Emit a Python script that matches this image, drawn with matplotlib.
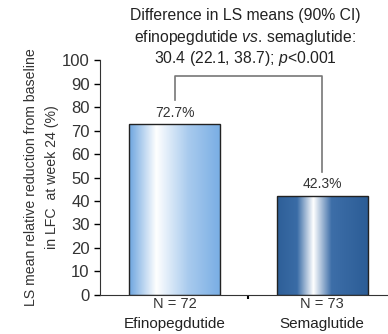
import numpy as np
import matplotlib
matplotlib.use("Agg")
from matplotlib import pyplot as plt
from matplotlib.colors import LinearSegmentedColormap

groups = ["Efinopegdutide", "Semaglutide"]
n_labels = ["N = 72", "N = 73"]
values = [72.7, 42.3]
title_lines = ["Difference in LS means (90% CI)",
               "efinopegdutide $\\it{vs}$. semaglutide:",
               "30.4 (22.1, 38.7); $\\it{p}$<0.001"]
yticks = [0, 10, 20, 30, 40, 50, 60, 70, 80, 90, 100]

plt.rcParams['font.family'] = ['Liberation Sans', 'DejaVu Sans']
plt.rcParams['mathtext.fontset'] = 'custom'
plt.rcParams['mathtext.it'] = 'Liberation Sans:italic'
plt.rcParams['mathtext.rm'] = 'Liberation Sans'

fig = plt.figure(figsize=(3.88, 3.34), dpi=100)
ax = fig.add_axes([0.258, 0.117, 0.742, 0.703])

# gradient colours (edge, highlight position)
light = LinearSegmentedColormap.from_list("l", [(0, "#6da5df"), (0.3, "#ffffff"), (0.65, "#a9cbee"), (1, "#7aaee4")])
dark = LinearSegmentedColormap.from_list("d", [(0, "#2e5f98"), (0.22, "#3a6ca6"), (0.4, "#ffffff"), (0.6, "#3d6ea8"), (1, "#2c5d96")])
cmaps = [light, dark]
width = 0.617
grad = np.linspace(0, 1, 256).reshape(1, -1)
for i, v in enumerate(values):
    bar = ax.bar(i, v, width=width, color="none", edgecolor="#222222", linewidth=1.0, zorder=3)[0]
    im = ax.imshow(grad, cmap=cmaps[i], aspect="auto", extent=[i - width / 2, i + width / 2, 0, v], zorder=2)
    im.set_clip_path(bar)
    ax.text(i, v + 1.8, f"{v}%", ha="center", va="bottom", fontsize=10, color="#333333")
    ax.text(i, -3.9, n_labels[i], ha="center", va="center", fontsize=10.5, color="#333333", clip_on=False)
    ax.text(i, -12.3, groups[i], ha="center", va="center", fontsize=11, color="#222222", clip_on=False)

# bracket
ax.plot([0, 0, 1, 1], [83, 93.2, 93.2, 52.3], color="#777777", lw=1.2, clip_on=False)

fig.text(0.632, 0.955, title_lines[0], ha="center", va="center", fontsize=11.3, color="#222222")
fig.text(0.632, 0.887, title_lines[1], ha="center", va="center", fontsize=11.3, color="#222222")
fig.text(0.632, 0.826, title_lines[2], ha="center", va="center", fontsize=11.3, color="#222222")

ax.set_xlim(-0.505, 1.447)
ax.set_ylim(0, 100)
ax.set_yticks(yticks)
ax.set_xticks([0.5])
ax.set_xticklabels([])
ax.tick_params(axis="y", labelsize=12, labelcolor="#333333", length=4, width=1, direction="out")
ax.tick_params(axis="x", length=3, width=1.5, direction="out")
ax.spines["top"].set_visible(False)
ax.spines["right"].set_visible(False)
ax.spines["left"].set_color("#333333")
ax.spines["bottom"].set_color("#333333")
ax.set_ylabel("LS mean relative reduction from baseline\nin LFC  at week 24 (%)", fontsize=10.2, color="#333333", linespacing=1.7)
ax.yaxis.set_label_coords(-0.142, 0.5)

fig.savefig("out.png", dpi=100)
